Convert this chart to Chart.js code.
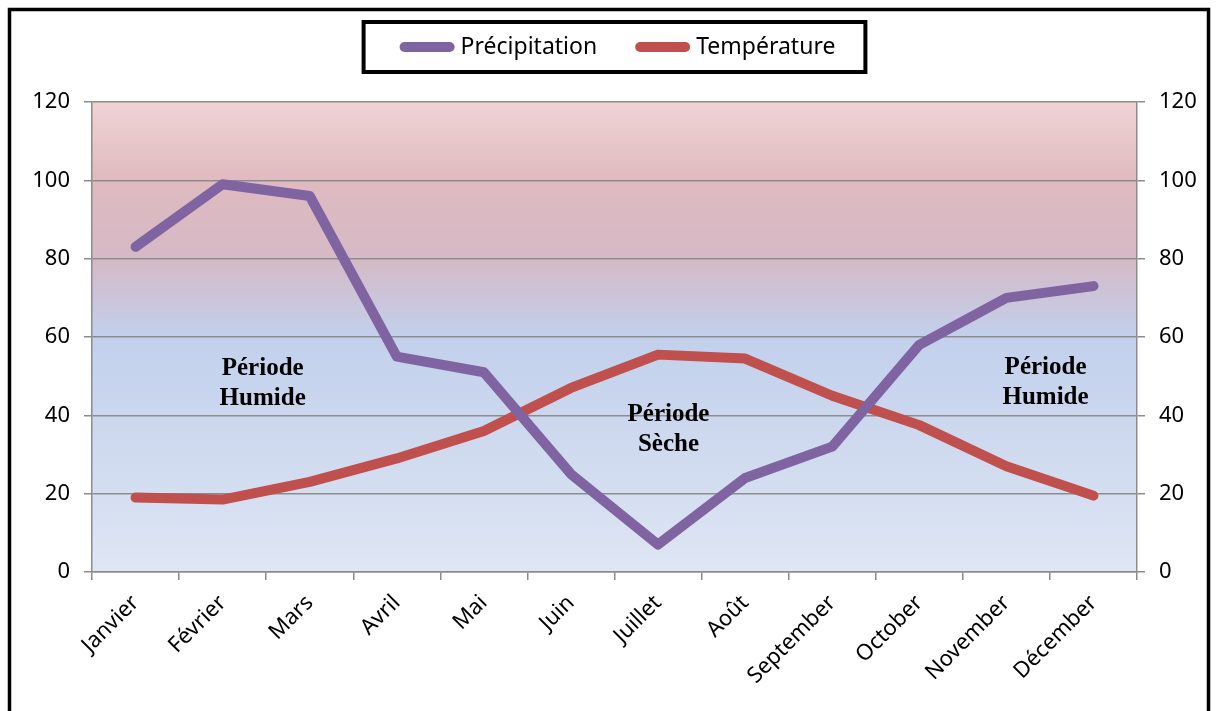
<!DOCTYPE html>
<html>
<head>
<meta charset="utf-8">
<script src="https://cdn.jsdelivr.net/npm/chart.js@4/dist/chart.umd.min.js"></script>
<style>
  html, body { margin: 0; padding: 0; background: #ffffff; }
  canvas { display: block; }
</style>
</head>
<body>
<canvas id="climat" width="1218" height="711"></canvas>
<script>
// Monthly climate data
const months = ["Janvier", "Février", "Mars", "Avril", "Mai", "Juin", "Juillet", "Août", "September", "October", "November", "Décember"];
const precipitation = [83, 99, 96, 55, 51, 25, 7, 24, 32, 58, 70, 73];
const temperature = [19, 18.5, 23, 29, 36, 47, 55.5, 54.5, 45, 37.5, 27, 19.5];
const axisTicks = [0, 20, 40, 60, 80, 100, 120];

// Season labels: [category position, value of first line, lines]
const periodLabels = [
  { x: 1.46, y: 52, lines: ["Période", "Humide"] },
  { x: 6.12, y: 40.2, lines: ["Période", "Sèche"] },
  { x: 10.45, y: 52.2, lines: ["Période", "Humide"] }
];

const FAMILY = "'Noto Sans', 'Open Sans', sans-serif";
const TICK_FONT = { family: FAMILY, size: 22 };
const GRID = "#8c8c8c";

// White page, black frame and gradient plot background
const framePlugin = {
  id: "frame",
  beforeDraw(chart) {
    const ctx = chart.ctx;
    const a = chart.chartArea;
    ctx.save();
    ctx.fillStyle = "#ffffff";
    ctx.fillRect(0, 0, chart.width, chart.height);
    ctx.strokeStyle = "#000000";
    ctx.lineWidth = 3.5;
    ctx.strokeRect(9.5, 9.5, chart.width - 19, chart.height + 20);
    const g = ctx.createLinearGradient(0, a.top, 0, a.bottom);
    g.addColorStop(0.0, "#efd3d3");
    g.addColorStop(0.17, "#dfbac0");
    g.addColorStop(0.33, "#d5b9c5");
    g.addColorStop(0.5, "#c2d0ec");
    g.addColorStop(0.67, "#cbd7ee");
    g.addColorStop(1.0, "#dfe6f4");
    ctx.fillStyle = g;
    ctx.fillRect(a.left, a.top, a.right - a.left, a.bottom - a.top);
    ctx.restore();
  }
};

// Season text over the plot
const periodPlugin = {
  id: "periods",
  afterDatasetsDraw(chart) {
    const ctx = chart.ctx;
    const xs = chart.scales.x, ys = chart.scales.y;
    ctx.save();
    ctx.fillStyle = "#000000";
    ctx.font = "bold 25px 'Liberation Serif', 'Times New Roman', serif";
    ctx.textAlign = "center";
    ctx.textBaseline = "middle";
    periodLabels.forEach(p => {
      const px = xs.getPixelForValue(p.x);
      const py = ys.getPixelForValue(p.y);
      p.lines.forEach((t, i) => ctx.fillText(t, px, py + i * 30));
    });
    ctx.restore();
  }
};

// Boxed legend above the plot
const legendBoxPlugin = {
  id: "legendBox",
  afterDraw(chart) {
    const ctx = chart.ctx;
    const a = chart.chartArea;
    const marker = 55, gap = 6, spacing = 38, padL = 36, padR = 30;
    ctx.save();
    ctx.font = "23px " + FAMILY;
    const items = chart.data.datasets.map(d => ({ label: d.label, color: d.borderColor, w: ctx.measureText(d.label).width }));
    let total = 0;
    items.forEach((it, i) => { total += marker + gap + it.w + (i ? spacing : 0); });
    const cx = (a.left + a.right) / 2;
    const boxW = total + padL + padR;
    const boxL = cx - boxW / 2, boxT = 22, boxH = 50;
    ctx.fillStyle = "#ffffff";
    ctx.fillRect(boxL, boxT, boxW, boxH);
    ctx.strokeStyle = "#000000";
    ctx.lineWidth = 4;
    ctx.strokeRect(boxL, boxT, boxW, boxH);
    const cy = boxT + boxH / 2;
    let x = boxL + padL;
    items.forEach((it, i) => {
      if (i) x += spacing;
      ctx.strokeStyle = it.color;
      ctx.lineWidth = 10;
      ctx.lineCap = "round";
      ctx.beginPath();
      ctx.moveTo(x + 5, cy);
      ctx.lineTo(x + marker - 5, cy);
      ctx.stroke();
      x += marker + gap;
      ctx.fillStyle = "#000000";
      ctx.textAlign = "left";
      ctx.textBaseline = "middle";
      ctx.fillText(it.label, x, cy);
      x += it.w;
    });
    ctx.restore();
  }
};

new Chart(document.getElementById("climat"), {
  type: "line",
  data: {
    labels: months,
    datasets: [
      {
        label: "Précipitation",
        data: precipitation,
        borderColor: "#8064a2",
        backgroundColor: "#8064a2",
        borderWidth: 10,
        borderCapStyle: "round",
        borderJoinStyle: "round",
        pointRadius: 0,
        tension: 0,
        yAxisID: "y"
      },
      {
        label: "Température",
        data: temperature,
        borderColor: "#c0504d",
        backgroundColor: "#c0504d",
        borderWidth: 10,
        borderCapStyle: "round",
        borderJoinStyle: "round",
        pointRadius: 0,
        tension: 0,
        yAxisID: "y"
      }
    ]
  },
  options: {
    responsive: false,
    animation: false,
    layout: { padding: { top: 102, left: 0, right: 0, bottom: 0 } },
    plugins: {
      legend: { display: false },
      tooltip: { enabled: false }
    },
    scales: {
      x: {
        type: "category",
        offset: true,
        grid: { offset: true, drawOnChartArea: false, drawTicks: true, tickLength: 8, color: GRID, lineWidth: 1.5 },
        border: { color: GRID, width: 1.5 },
        ticks: { color: "#000000", font: { family: FAMILY, size: 22 }, minRotation: 45, maxRotation: 45, padding: 10, autoSkip: false },
        afterFit(scale) { scale.height = 139; }
      },
      y: {
        position: "left",
        min: 0,
        max: 120,
        afterBuildTicks(scale) { scale.ticks = axisTicks.map(v => ({ value: v })); },
        grid: { color: GRID, lineWidth: 1.5, tickLength: 8 },
        border: { color: GRID, width: 1.5 },
        ticks: { color: "#000000", font: TICK_FONT, padding: 14 },
        afterFit(scale) { scale.width = 92; }
      },
      y1: {
        position: "right",
        min: 0,
        max: 120,
        afterBuildTicks(scale) { scale.ticks = axisTicks.map(v => ({ value: v })); },
        grid: { drawOnChartArea: false, color: GRID, lineWidth: 1.5, tickLength: 8 },
        border: { color: GRID, width: 1.5 },
        ticks: { color: "#000000", font: TICK_FONT, padding: 14 },
        afterFit(scale) { scale.width = 81; }
      }
    }
  },
  plugins: [framePlugin, periodPlugin, legendBoxPlugin]
});
</script>
</body>
</html>
